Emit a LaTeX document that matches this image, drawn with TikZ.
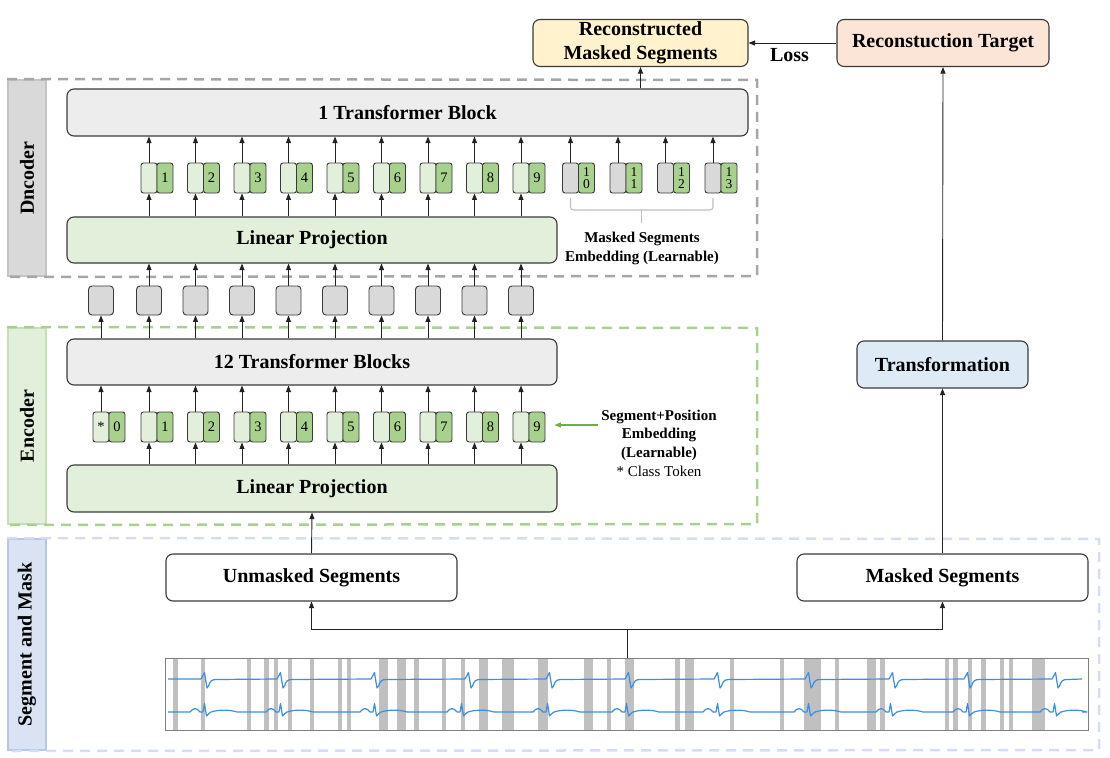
\documentclass[tikz,border=0pt]{standalone}
\usepackage{fontspec}
\setmainfont{Liberation Serif}
\usetikzlibrary{arrows.meta}
\definecolor{boxline}{HTML}{3A3A3A}
\definecolor{arrline}{HTML}{222222}
\definecolor{tbfill}{HTML}{EDEDED}
\definecolor{lpfill}{HTML}{E2EFDA}
\definecolor{tokl}{HTML}{E2EFDA}
\definecolor{tokg}{HTML}{A9D18E}
\definecolor{gboxc}{HTML}{D9D9D9}
\definecolor{rmsfill}{HTML}{FFF2CC}
\definecolor{rtfill}{HTML}{FBE5D6}
\definecolor{trfill}{HTML}{DEEBF7}
\definecolor{barc}{HTML}{C0C0C0}
\definecolor{sigc}{HTML}{3B8EE6}
\definecolor{dncf}{HTML}{D9D9D9}
\definecolor{dncb}{HTML}{C4C4C4}
\definecolor{encf}{HTML}{E2EFDA}
\definecolor{encb}{HTML}{C5E0B4}
\definecolor{segf}{HTML}{DAE3F3}
\definecolor{segb}{HTML}{B4C7E7}
\definecolor{dashg}{HTML}{A6A6A6}
\definecolor{dashgr}{HTML}{A9D18E}
\definecolor{dashb}{HTML}{D3DEF2}
\definecolor{greenarr}{HTML}{70AD47}
\definecolor{bracec}{HTML}{BFBFBF}
\newcommand\BigLbl{\fontsize{20}{24}\selectfont\bfseries}
\newcommand\MidLbl{\fontsize{15}{18.7}\selectfont\bfseries}
\newcommand\TokF{\fontsize{14.5}{14}\selectfont}
\newcommand\TokTwo{\fontsize{13.5}{11.5}\selectfont}
\begin{document}
\begin{tikzpicture}[x=1pt,y=-1pt,
  box/.style={draw=boxline, rounded corners=7pt, line width=1.1pt, font=\BigLbl, inner sep=0pt, align=center},
  tok/.style={draw=boxline, rounded corners=2.5pt, line width=0.9pt, minimum width=16pt, minimum height=30pt, inner sep=0pt, font=\TokF},
  gbox/.style={draw=boxline, fill=gboxc, rounded corners=3.5pt, line width=0.9pt, minimum width=25pt, minimum height=29pt, inner sep=0pt},
  arr/.style={-{Triangle[length=6.5pt,width=5pt]}, line width=0.9pt, draw=arrline},
  garr/.style={-{Triangle[length=6.5pt,width=5pt]}, line width=1.1pt, draw=greenarr, fill=greenarr},
  lbl/.style={rotate=90, line width=2pt, inner sep=0pt, font=\BigLbl},
  dsh/.style={line width=2.5pt, dash pattern=on 10pt off 7pt},
  brace/.style={draw=bracec, line width=1.1pt, rounded corners=3pt}
]
\useasboundingbox (0,0) rectangle (1110,757);

% side labels
\node[lbl, draw=dncb, fill=dncf, minimum width=196pt, minimum height=38pt] (lblD) at (27,178) {Dncoder};
\node[lbl, draw=encb, fill=encf, minimum width=196pt, minimum height=38pt] (lblE) at (27,426) {Encoder};
\node[lbl, draw=segb, fill=segf, minimum width=211pt, minimum height=38pt] (lblS) at (27,644.5) {Segment and Mask};

% dashed group frames
\draw[dsh, draw=dashg] (lblD.north east) -- (757,80) -- (757,276) -- (lblD.north west);
\draw[dsh, draw=dashgr] (lblE.north east) -- (757,328) -- (757,524) -- (lblE.north west);
\draw[dsh, draw=dashb] (lblS.north east) -- (1099,539) -- (1099,750) -- (lblS.north west);

% top boxes
\node[box, fill=rmsfill, minimum width=215pt, minimum height=47pt] (rms) at (640.5,43) {Reconstructed\\Masked Segments};
\node[box, fill=rtfill, minimum width=212pt, minimum height=47pt] (rt) at (943,43) {Reconstuction Target};
\draw[arr] (rt.west) -- (rms.east) node[midway, below=2pt, xshift=-3pt, font=\BigLbl] {Loss};

% decoder
\node[box, fill=tbfill, minimum width=681pt, minimum height=47pt] (tb1) at (407.5,112.5) {1 Transformer Block};
\node[box, fill=lpfill, minimum width=490pt, minimum height=46pt] (dlp) at (312,240) {Linear Projection};
\draw[arr] (tb1.north -| rms.south) -- (rms.south);

\foreach \i/\x in {1/149,2/195.5,3/242,4/288.5,5/335,6/381.5,7/428,8/474.5,9/521}{
  \node[tok, fill=tokl] (dL\i) at (\x,178) {};
  \node[tok, fill=tokg] (dR\i) at (\x+16,178) {\i};
  \draw[arr] (dlp.north -| dL\i.south) -- (dL\i.south);
  \draw[arr] (dL\i.north) -- (tb1.south -| dL\i.north);
}
\foreach \k in {0,1,2,3}{
  \node[tok, fill=gboxc] (mL\k) at ({570.5+47.5*\k},178) {};
  \node[tok, fill=tokg, font=\TokTwo, align=center] (mR\k) at ({586.5+47.5*\k},178) {1\\\k};
  \draw[arr] (mL\k.north) -- (tb1.south -| mL\k.north);
}
\draw[brace] (570.5,198) -- (570.5,210) -- (713,210) -- (713,198);
\draw[brace] (641.75,210) -- (641.75,223);
\node[font=\MidLbl, align=center] (mse) at (642,248.5) {Masked Segments\\Embedding (Learnable)};

% encoder
\node[box, fill=tbfill, minimum width=490pt, minimum height=46pt] (tb12) at (312,362) {12 Transformer Blocks};
\node[box, fill=lpfill, minimum width=490pt, minimum height=47pt] (elp) at (312,488.5) {Linear Projection};

\node[tok, fill=tokl] (eL0) at (101,427) {*};
\node[tok, fill=tokg] (eR0) at (117,427) {0};
\node[gbox] (g0) at (101,300.5) {};
\draw[arr] (eL0.north) -- (tb12.south -| eL0.north);
\draw[arr] (tb12.north -| g0.south) -- (g0.south);

\foreach \i/\x in {1/149,2/195.5,3/242,4/288.5,5/335,6/381.5,7/428,8/474.5,9/521}{
  \node[tok, fill=tokl] (eL\i) at (\x,427) {};
  \node[tok, fill=tokg] (eR\i) at (\x+16,427) {\i};
  \node[gbox] (g\i) at (\x,300.5) {};
  \draw[arr] (elp.north -| eL\i.south) -- (eL\i.south);
  \draw[arr] (eL\i.north) -- (tb12.south -| eL\i.north);
  \draw[arr] (tb12.north -| g\i.south) -- (g\i.south);
  \draw[arr] (g\i.north) -- (dlp.south -| g\i.north);
}

\node[font=\MidLbl, align=center] (spe) at (659,443) {Segment+Position\\Embedding\\(Learnable)\\{\mdseries * Class Token}};
\coordinate (speA) at (598,425);
\draw[garr, shorten >=9pt] (speA) -- (speA -| eR9.east);

% right column
\node[box, fill=trfill, minimum width=171pt, minimum height=47pt] (tr) at (942.5,364.5) {Transformation};
\draw[arr] (tr.north) -- (rt.south);

% segment and mask
\node[box, fill=white, minimum width=291pt, minimum height=47pt] (us) at (311.5,577.5) {Unmasked Segments};
\node[box, fill=white, minimum width=291pt, minimum height=47pt] (ms) at (942.5,577.5) {Masked Segments};
\draw[arr] (us.north) -- (elp.south);
\draw[arr] (ms.north) -- (tr.south);

% ECG strip
\foreach \a/\b in {173/177.5,200.7/205,247/251,264/268.5,274/278,287.5/292,310/314,337.5/341.5,346.5/350.7,378.5/387.5,397/406,414/418.5,442/446.4,460.7/465.4,478.6/487.5,502/514,538/547.5,584/593,607/611,625/634,675/680,685/693.5,730/734,780/784,804/821,835/839,867/876,880/885,945/949,953/958,968/972,981/986,1000/1004,1009/1013,1032/1045}{
  \fill[barc] (\a,658) rectangle (\b,730);
}
\begin{scope}
\clip (165,658) rectangle (1088,730);
\draw[sigc, line width=1.2pt, line join=round] (168,679)
  \foreach \b in {205,281,375,469,550,629,718,809,893,968,1056}{
    -- (\b-4,679) -- (\b-1.5,674.5) -- (\b-0.5,672.5) -- (\b+0.8,681) -- (\b+2,688) -- (\b+3.5,686)
    .. controls (\b+5,681) and (\b+7,679.5) .. (\b+11,679.5)
  } -- (1082,679);
\draw[sigc, line width=1.2pt, line join=round] (168,712)
  \foreach \b in {205,281,375,462,548,627,718,809,891,968,1055}{
    -- (\b-15,712) .. controls (\b-12,707.5) and (\b-8,707.5) .. (\b-5,712)
    -- (\b-2,712) -- (\b-0.5,703.5) -- (\b+1.5,716) -- (\b+3.5,714) -- (\b+6,712)
    .. controls (\b+14,709.5) and (\b+24,709.5) .. (\b+32,712)
  } -- (1082,712);
\end{scope}
\node[draw=black!50, line width=1pt, minimum width=923pt, minimum height=72pt, inner sep=0pt] (ecg) at (626.5,694) {};

\coordinate (fork) at (627,629);
\draw[line width=0.9pt, draw=arrline] (ecg.north -| fork) -- (fork);
\draw[arr] (fork) -| (us.south);
\draw[arr] (fork) -| (ms.south);
\end{tikzpicture}
\end{document}
